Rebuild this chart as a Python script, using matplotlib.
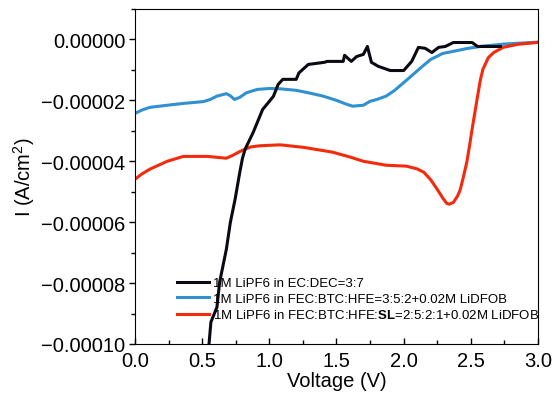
import matplotlib
matplotlib.use("Agg")
import matplotlib.pyplot as plt
from matplotlib.ticker import FuncFormatter, MultipleLocator

plt.rcParams['font.family'] = ['Liberation Sans', 'DejaVu Sans']
plt.rcParams['mathtext.fontset'] = 'custom'
plt.rcParams['mathtext.rm'] = 'Liberation Sans'
plt.rcParams['mathtext.bf'] = 'Liberation Sans:bold'

# Daten
v_ec = [0.551, 0.565, 0.61, 0.63, 0.68, 0.71, 0.745, 0.78, 0.80, 0.82, 0.88, 0.95,
        1.03, 1.065, 1.10, 1.20, 1.22, 1.29, 1.41, 1.43, 1.55, 1.56, 1.61, 1.65,
        1.70, 1.73, 1.76, 1.81, 1.90, 2.0, 2.06, 2.11, 2.16, 2.21, 2.26, 2.31,
        2.37, 2.51, 2.55, 2.72]
i_ec = [-1.0e-4, -9.28e-5, -8.79e-5, -7.97e-5, -6.89e-5, -6.0e-5, -5.25e-5, -4.36e-5,
        -3.9e-5, -3.6e-5, -3.05e-5, -2.3e-5, -1.87e-5, -1.48e-5, -1.31e-5, -1.31e-5,
        -1.1e-5, -8.2e-6, -7.5e-6, -7.2e-6, -7.2e-6, -5.2e-6, -7.2e-6, -5.6e-6,
        -4.9e-6, -2.3e-6, -7.5e-6, -8.8e-6, -1.02e-5, -1.02e-5, -7.2e-6, -2.6e-6,
        -2.9e-6, -4.3e-6, -2.6e-6, -2.3e-6, -1.0e-6, -1.0e-6, -2.3e-6, -2.3e-6]

v_fec = [0.0, 0.05, 0.11, 0.24, 0.36, 0.51, 0.56, 0.61, 0.68, 0.71, 0.74, 0.78,
         0.83, 0.91, 1.0, 1.08, 1.2, 1.3, 1.4, 1.5, 1.57, 1.62, 1.7, 1.75, 1.8,
         1.87, 1.93, 2.0, 2.07, 2.14, 2.2, 2.29, 2.37, 2.48, 2.59, 2.75, 2.99]
i_fec = [-2.43e-5, -2.32e-5, -2.23e-5, -2.16e-5, -2.1e-5, -2.04e-5, -1.97e-5, -1.86e-5,
         -1.78e-5, -1.85e-5, -1.97e-5, -1.9e-5, -1.75e-5, -1.64e-5, -1.61e-5, -1.62e-5,
         -1.67e-5, -1.76e-5, -1.86e-5, -2.0e-5, -2.12e-5, -2.19e-5, -2.16e-5, -2.03e-5,
         -1.97e-5, -1.86e-5, -1.68e-5, -1.42e-5, -1.15e-5, -8.8e-6, -6.6e-6, -4.6e-6,
         -3.9e-6, -2.9e-6, -2.2e-6, -1.5e-6, -9e-7]

v_sl = [0.0, 0.05, 0.11, 0.24, 0.36, 0.54, 0.68, 0.73, 0.78, 0.86, 0.93, 1.08,
        1.25, 1.47, 1.60, 1.70, 1.87, 2.02, 2.10, 2.15, 2.20, 2.25, 2.29, 2.32,
        2.34, 2.37, 2.40, 2.42, 2.44, 2.47, 2.49, 2.51, 2.53, 2.55, 2.57, 2.59,
        2.63, 2.67, 2.74, 2.85, 2.99]
i_sl = [-4.59e-5, -4.42e-5, -4.26e-5, -4.0e-5, -3.84e-5, -3.84e-5, -3.9e-5, -3.8e-5,
        -3.68e-5, -3.53e-5, -3.49e-5, -3.46e-5, -3.54e-5, -3.7e-5, -3.86e-5, -4.0e-5,
        -4.13e-5, -4.16e-5, -4.25e-5, -4.36e-5, -4.6e-5, -4.92e-5, -5.2e-5, -5.38e-5,
        -5.41e-5, -5.35e-5, -5.15e-5, -4.95e-5, -4.6e-5, -4.03e-5, -3.5e-5, -2.93e-5,
        -2.4e-5, -1.87e-5, -1.35e-5, -9.8e-6, -6e-6, -4.3e-6, -2.6e-6, -1.6e-6,
        -1e-6]

labels = ["1M LiPF6 in EC:DEC=3:7",
          "1M LiPF6 in FEC:BTC:HFE=3:5:2+0.02M LiDFOB",
          "1M LiPF6 in FEC:BTC:HFE:$\\mathbf{SL}$=2:5:2:1+0.02M LiDFOB"]

fig = plt.figure(figsize=(5.54, 4.02), dpi=100)
ax = fig.add_axes([0.2437, 0.1418, 0.7274, 0.8333])

ax.plot(v_ec, i_ec, color='#0a0a12', lw=2.2, label=labels[0], zorder=3)
ax.plot(v_fec, i_fec, color='#3090d0', lw=2.2, label=labels[1], zorder=2)
ax.plot(v_sl, i_sl, color='#f52a0c', lw=2.2, label=labels[2], zorder=2)

ax.set_xlim(0, 3.0)
ax.set_ylim(-0.0001, 0.00001)
ax.xaxis.set_major_locator(MultipleLocator(0.5))
ax.xaxis.set_minor_locator(MultipleLocator(0.25))
ax.yaxis.set_major_locator(MultipleLocator(0.00002))
ax.yaxis.set_minor_locator(MultipleLocator(0.00001))

def yfmt(v, pos):
    s = f"{v:.5f}"
    if float(s) == 0:
        s = "0.00000"
    return s.replace('-', '\u2212')

ax.yaxis.set_major_formatter(FuncFormatter(yfmt))
ax.tick_params(axis='x', which='major', direction='in', length=4, width=1, labelsize=14.5, pad=5)
ax.tick_params(axis='x', which='minor', direction='in', length=3, width=1)
ax.tick_params(axis='y', which='major', direction='out', length=4, width=1, labelsize=14.5, pad=3)
ax.tick_params(axis='y', which='minor', direction='out', length=3, width=1)

ax.set_xlabel("Voltage (V)", fontsize=14.5, labelpad=1)
ax.set_ylabel("I (A/cm$^2$)", fontsize=14.5, labelpad=3)

ax.legend(loc='lower left', bbox_to_anchor=(0.105, 0.068), frameon=False, fontsize=9.5,
          handlelength=2.4, handletextpad=0.3, labelspacing=0.25, borderpad=0,
          borderaxespad=0)

fig.savefig("out.png", dpi=100)
